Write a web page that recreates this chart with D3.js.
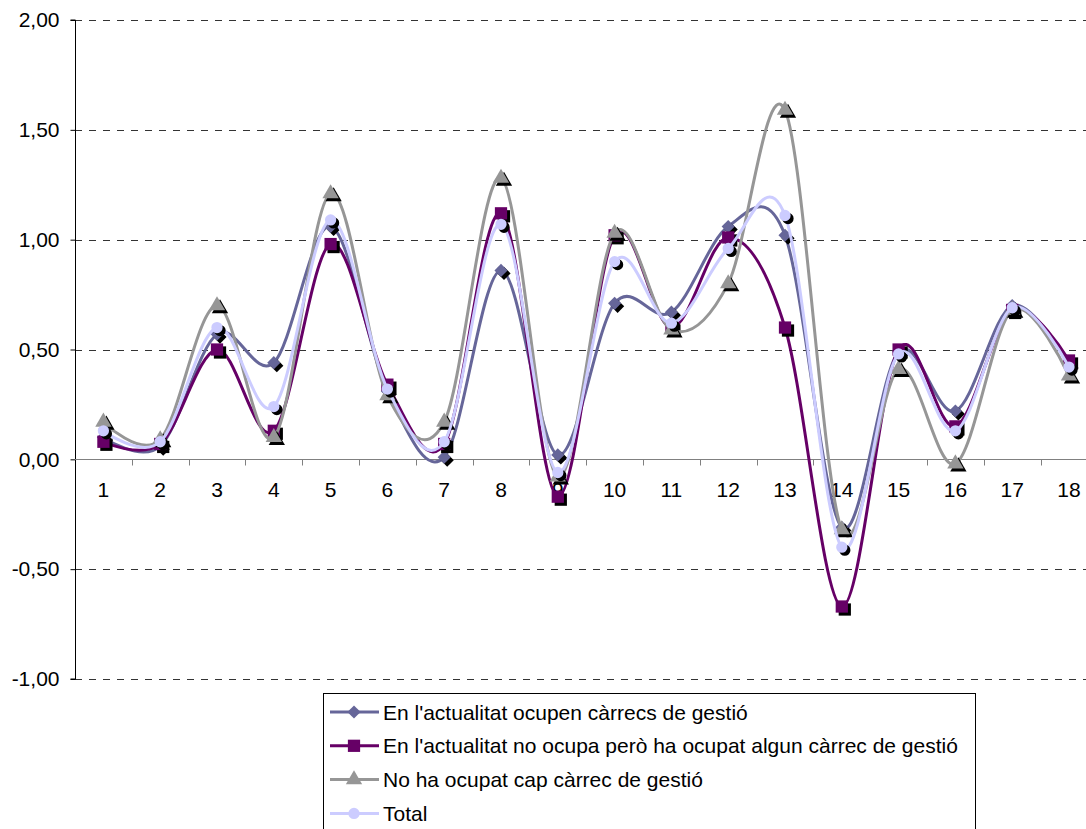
<!DOCTYPE html>
<html>
<head>
<meta charset="utf-8">
<script src="https://cdn.jsdelivr.net/npm/d3@7"></script>
<style>
  html, body { margin: 0; padding: 0; background: #fff; }
  svg { display: block; }
  text { font-family: "Liberation Sans", Arial, sans-serif; }
</style>
</head>
<body>
<svg id="chart" width="1086" height="829"></svg>
<script>
// Categories on the x axis
const categories = [1, 2, 3, 4, 5, 6, 7, 8, 9, 10, 11, 12, 13, 14, 15, 16, 17, 18];

// Series values
const ocupen     = [0.10, 0.06, 0.57, 0.44, 1.06, 0.31, 0.01, 0.86, 0.02, 0.71, 0.67, 1.06, 1.02, -0.31, 0.49, 0.22, 0.70, 0.43];
const haOcupat   = [0.08, 0.07, 0.50, 0.13, 0.98, 0.34, 0.07, 1.12, -0.17, 1.02, 0.60, 1.01, 0.60, -0.67, 0.50, 0.15, 0.68, 0.45];
const capCarrec  = [0.17, 0.09, 0.70, 0.10, 1.21, 0.29, 0.17, 1.28, -0.08, 1.03, 0.59, 0.80, 1.59, -0.32, 0.41, -0.02, 0.68, 0.38];
const total      = [0.13, 0.08, 0.60, 0.24, 1.09, 0.32, 0.08, 1.07, -0.06, 0.90, 0.62, 0.96, 1.11, -0.40, 0.48, 0.13, 0.69, 0.42];

// Y axis ticks and their labels
const yTicks = [-1, -0.5, 0, 0.5, 1, 1.5, 2];
const yTickLabels = ["-1,00", "-0,50", "0,00", "0,50", "1,00", "1,50", "2,00"];

const seriesNames = [
  "En l'actualitat ocupen càrrecs de gestió",
  "En l'actualitat no ocupa però ha ocupat algun càrrec de gestió",
  "No ha ocupat cap càrrec de gestió",
  "Total"
];

const series = [
  { name: seriesNames[0], values: ocupen,    color: "#666699", shape: "diamond" },
  { name: seriesNames[1], values: haOcupat,  color: "#660066", shape: "square" },
  { name: seriesNames[2], values: capCarrec, color: "#969696", shape: "triangle" },
  { name: seriesNames[3], values: total,     color: "#CCCCFF", shape: "circle" }
];

const FONT = 21;
const svg = d3.select("#chart");

const plot = { left: 75, top: 20, bottom: 679, right: 75 + 18 * 56.8 };

const x = d3.scaleBand().domain(categories).range([plot.left, plot.right]).padding(0);
const y = d3.scaleLinear().domain([-1, 2]).range([plot.bottom, plot.top]);
const cx = c => x(c) + x.bandwidth() / 2;

// Dashed horizontal gridlines
svg.append("g")
  .selectAll("line")
  .data(yTicks.filter(t => t !== 0))
  .join("line")
  .attr("x1", plot.left).attr("x2", plot.right)
  .attr("y1", d => Math.round(y(d)) + 0.5).attr("y2", d => Math.round(y(d)) + 0.5)
  .attr("stroke", "#333")
  .attr("stroke-width", 1)
  .attr("stroke-dasharray", "7,7");

// Y axis
const yAxis = d3.axisLeft(y)
  .tickValues(yTicks)
  .tickFormat((d, i) => yTickLabels[i])
  .tickSize(5)
  .tickPadding(11);
const gy = svg.append("g")
  .attr("transform", `translate(${plot.left + 0.5},0)`)
  .call(yAxis);
gy.select(".domain").attr("stroke", "#000").attr("d", `M-5,${y(2)}H0V${y(-1)}H-5`);
gy.selectAll(".tick line").attr("stroke", "#000");
gy.selectAll(".tick text")
  .attr("font-size", FONT)
  .attr("fill", "#000")
  .style("font-family", "'Liberation Sans', Arial, sans-serif");

// X axis sits on the zero line with ticks between categories
const gx = svg.append("g").attr("transform", `translate(0,${Math.round(y(0)) + 0.5})`);
gx.append("line")
  .attr("x1", plot.left).attr("x2", plot.right)
  .attr("stroke", "#808080").attr("stroke-width", 1);
gx.selectAll("line.tick")
  .data(categories.slice(1))
  .join("line")
  .attr("class", "tick")
  .attr("x1", d => Math.round(x(d)) + 0.5).attr("x2", d => Math.round(x(d)) + 0.5)
  .attr("y1", 0).attr("y2", 6)
  .attr("stroke", "#808080");
gx.selectAll("text")
  .data(categories)
  .join("text")
  .attr("x", d => cx(d))
  .attr("y", 37)
  .attr("text-anchor", "middle")
  .attr("font-size", FONT)
  .attr("fill", "#000")
  .text(d => d);

// Marker shapes
const symbolFor = {
  diamond: d3.symbol().type(d3.symbolDiamond2).size(110),
  square: d3.symbol().type(d3.symbolSquare).size(150),
  triangle: d3.symbol().type(d3.symbolTriangle).size(115),
  circle: d3.symbol().type(d3.symbolCircle).size(100)
};

const line = d3.line()
  .x((d, i) => cx(categories[i]))
  .y(d => y(d))
  .curve(d3.curveCardinal.tension(0));

const gSeries = svg.append("g");
series.forEach(s => {
  const g = gSeries.append("g");
  g.append("path")
    .datum(s.values)
    .attr("d", line)
    .attr("fill", "none")
    .attr("stroke", s.color)
    .attr("stroke-width", 3)
    .attr("stroke-linejoin", "round");
  const sym = symbolFor[s.shape];
  const pts = g.selectAll("g.pt")
    .data(s.values)
    .join("g")
    .attr("class", "pt")
    .attr("transform", (d, i) => `translate(${cx(categories[i])},${y(d)})`);
  // drop shadow
  pts.append("path")
    .attr("d", sym)
    .attr("transform", "translate(3,3)")
    .attr("fill", "#000");
  pts.append("path")
    .attr("d", sym)
    .attr("fill", s.color);
});

// Legend
const legend = svg.append("g");
legend.append("rect")
  .attr("x", 323.5).attr("y", 693.5)
  .attr("width", 652).attr("height", 150)
  .attr("fill", "#fff")
  .attr("stroke", "#000")
  .attr("stroke-width", 1);
const rows = legend.selectAll("g.row")
  .data(series)
  .join("g")
  .attr("class", "row")
  .attr("transform", (d, i) => `translate(0,${712 + i * 33.8})`);
rows.append("line")
  .attr("x1", 330).attr("x2", 379)
  .attr("stroke", d => d.color)
  .attr("stroke-width", 3);
rows.append("path")
  .attr("d", d => symbolFor[d.shape]())
  .attr("transform", "translate(354,0)")
  .attr("fill", d => d.color);
rows.append("text")
  .attr("x", 383)
  .attr("y", 7.5)
  .attr("font-size", FONT)
  .attr("fill", "#000")
  .text(d => d.name);
</script>
</body>
</html>
